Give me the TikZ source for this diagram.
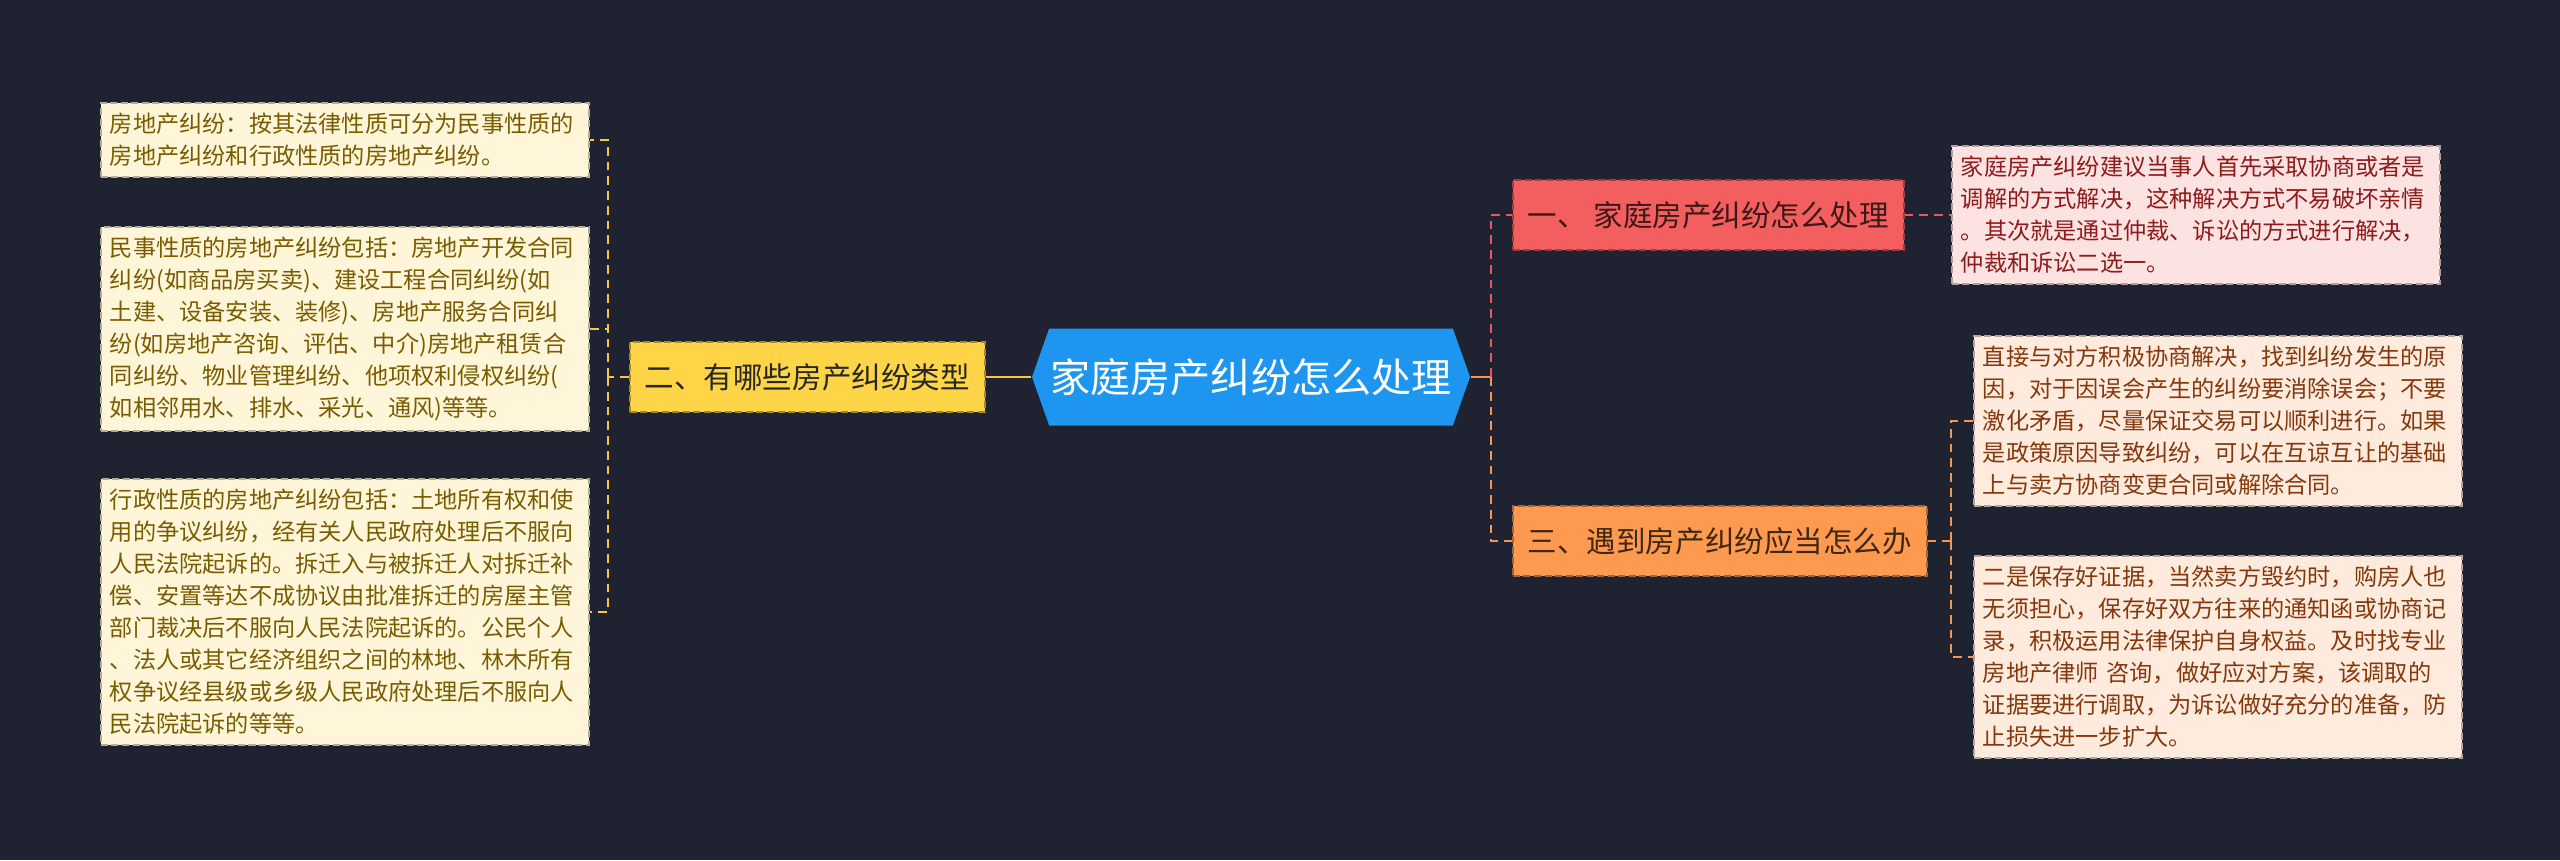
\documentclass[tikz,border=0pt]{standalone}
\usepackage{fontspec}
\setmainfont{Noto Sans CJK SC}
\usepackage{xcolor}
\usepackage{tikz}
\usetikzlibrary{shapes.symbols}
\definecolor{bgdark}{HTML}{1F2231}
\definecolor{hubblue}{HTML}{1E96EF}
\definecolor{ybranch}{HTML}{FDD546}
\definecolor{ynote}{HTML}{FFF6DA}
\definecolor{ytext}{HTML}{7A5C00}
\definecolor{ylink}{HTML}{F4C842}
\definecolor{rbranch}{HTML}{F35F5F}
\definecolor{rnote}{HTML}{FDE2E2}
\definecolor{rtext}{HTML}{8E1B1B}
\definecolor{rlink}{HTML}{E8585C}
\definecolor{obranch}{HTML}{FD9A50}
\definecolor{onote}{HTML}{FFEBDD}
\definecolor{otext}{HTML}{84380C}
\definecolor{olink}{HTML}{F5964F}
\tikzset{
  hub/.style={signal, signal to=west and east, signal pointer angle=141,
    fill=hubblue, text=white, minimum width=4.38cm, minimum height=0.97cm,
    inner xsep=0pt, font=\fontsize{11.4pt}{13pt}\selectfont},
  topic/.style={dashed, dash pattern=on 2pt off 1pt, line width=0.5pt,
    minimum height=0.70cm, inner xsep=0.15cm,
    font=\fontsize{8.4pt}{10pt}\selectfont},
  note/.style={dashed, dash pattern=on 2pt off 1pt, line width=0.5pt,
    text width=4.70cm, align=left, inner xsep=0.09cm, inner ysep=0.10cm,
    font=\fontsize{6.6pt}{9.1pt}\selectfont},
  link/.style={dashed, dash pattern=on 2.5pt off 1.7pt, line width=0.6pt},
  trunk/.style={line width=0.8pt}
}

\begin{document}
\begin{tikzpicture}
  \fill[bgdark] (0,0) rectangle (25.60,-8.60);

  % centre
  \node[hub] (hub) at (12.51,-3.77) {家庭房产纠纷怎么处理};

  % left branch
  \node[topic, fill=ybranch, draw=ybranch!65!black, text=black!85,
    anchor=west] (types) at (6.29,-3.77) {二、有哪些房产纠纷类型};
  \node[note, fill=ynote, draw=ynote!70!black, text=ytext, anchor=west]
    (civil0) at (1.00,-1.40)
    {房地产纠纷：按其法律性质可分为民事性质的\\房地产纠纷和行政性质的房地产纠纷。};
  \node[note, fill=ynote, draw=ynote!70!black, text=ytext, anchor=west]
    (civil) at (1.00,-3.29)
    {民事性质的房地产纠纷包括：房地产开发合同\\
     纠纷(如商品房买卖)、建设工程合同纠纷(如\\
     土建、设备安装、装修)、房地产服务合同纠\\
     纷(如房地产咨询、评估、中介)房地产租赁合\\
     同纠纷、物业管理纠纷、他项权利侵权纠纷(\\
     如相邻用水、排水、采光、通风)等等。};
  \node[note, fill=ynote, draw=ynote!70!black, text=ytext, anchor=west]
    (admin) at (1.00,-6.12)
    {行政性质的房地产纠纷包括：土地所有权和使\\
     用的争议纠纷，经有关人民政府处理后不服向\\
     人民法院起诉的。拆迁入与被拆迁人对拆迁补\\
     偿、安置等达不成协议由批准拆迁的房屋主管\\
     部门裁决后不服向人民法院起诉的。公民个人\\
     、法人或其它经济组织之间的林地、林木所有\\
     权争议经县级或乡级人民政府处理后不服向人\\
     民法院起诉的等等。};

  % right branches
  \node[topic, fill=rbranch, draw=rbranch!65!black, text=rbranch!25!black,
    anchor=west] (howto) at (15.12,-2.15) {一、 家庭房产纠纷怎么处理};
  \node[note, fill=rnote, draw=rnote!70!black, text=rtext, anchor=west]
    (advice) at (19.51,-2.15)
    {家庭房产纠纷建议当事人首先采取协商或者是\\
     调解的方式解决，这种解决方式不易破坏亲情\\
     。其次就是通过仲裁、诉讼的方式进行解决，\\
     仲裁和诉讼二选一。};
  \node[topic, fill=obranch, draw=obranch!65!black, text=obranch!25!black,
    anchor=west] (todo) at (15.12,-5.41) {三、遇到房产纠纷应当怎么办};
  \node[note, fill=onote, draw=onote!70!black, text=otext, anchor=west]
    (talk) at (19.73,-4.21)
    {直接与对方积极协商解决，找到纠纷发生的原\\
     因，对于因误会产生的纠纷要消除误会；不要\\
     激化矛盾，尽量保证交易可以顺利进行。如果\\
     是政策原因导致纠纷，可以在互谅互让的基础\\
     上与卖方协商变更合同或解除合同。};
  \node[note, fill=onote, draw=onote!70!black, text=otext, anchor=west]
    (proof) at (19.73,-6.57)
    {二是保存好证据，当然卖方毁约时，购房人也\\
     无须担心，保存好双方往来的通知函或协商记\\
     录，积极运用法律保护自身权益。及时找专业\\
     房地产律师 咨询，做好应对方案，该调取的\\
     证据要进行调取，为诉讼做好充分的准备，防\\
     止损失进一步扩大。};

  % connectors
  \coordinate (lj) at (6.08,-3.77);
  \coordinate (rj) at (14.91,-3.77);
  \coordinate (oj) at (19.51,-5.41);
  \draw[trunk, ylink] (hub.west) -- (types.east);
  \draw[link, ylink] (types.west) -- (lj);
  \draw[link, ylink] (lj) |- (civil0.east);
  \draw[link, ylink] (lj) |- (admin.east);
  \draw[link, ylink] (civil.east) -- (civil.east -| lj);
  \draw[trunk, olink] (hub.east) -- (rj);
  \draw[link, rlink] (rj) |- (howto.west);
  \draw[link, olink] (rj) |- (todo.west);
  \draw[link, rlink] (howto.east) -- (advice.west);
  \draw[link, olink] (todo.east) -- (oj);
  \draw[link, olink] (oj) |- (talk.west);
  \draw[link, olink] (oj) |- (proof.west);
\end{tikzpicture}
\end{document}
